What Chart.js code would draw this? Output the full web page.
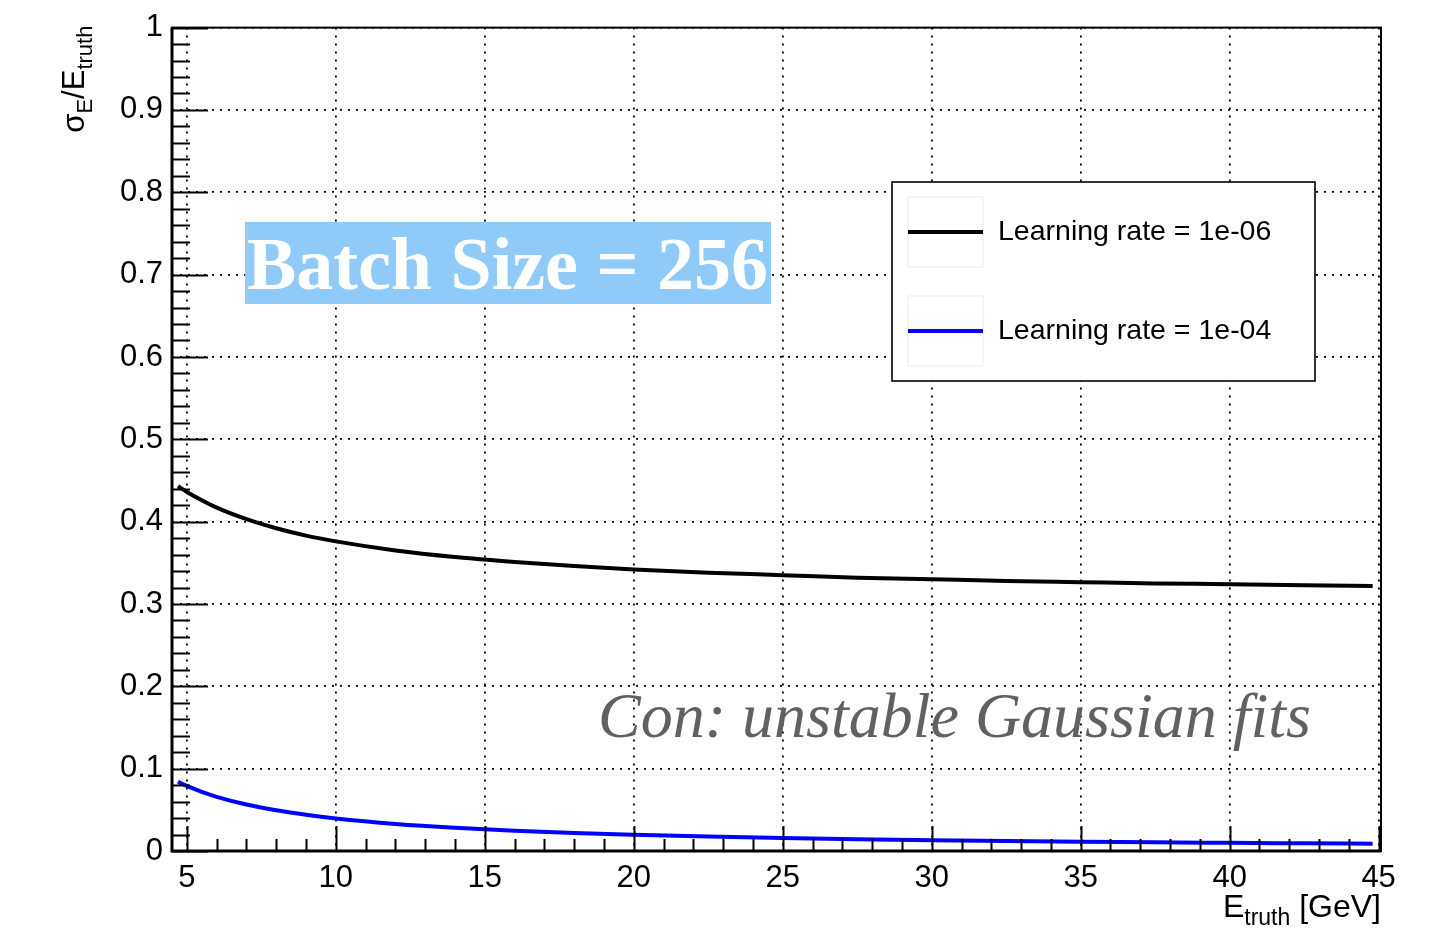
<!DOCTYPE html>
<html>
<head>
<meta charset="utf-8">
<title>Energy resolution vs true energy</title>
<script src="https://cdn.jsdelivr.net/npm/chart.js@4.4.1/dist/chart.umd.min.js"></script>
<style>
  html, body { margin: 0; padding: 0; background: #ffffff; }
  #wrap { width: 1435px; height: 928px; position: relative; }
</style>
</head>
<body>
<div id="wrap"><canvas id="c" width="1435" height="928"></canvas></div>
<script>
// True energy (GeV) at which the resolution curves are sampled
const energyGeV = [4.7, 5, 5.5, 6, 7, 8, 9, 10, 12, 14, 16, 18, 20, 22.5, 25, 27.5, 30, 32.5, 35, 37.5, 40, 42.5, 44.8];

// sigma_E / E_truth for learning rate 1e-06
const resolutionLR1e6 = [0.443, 0.436, 0.426, 0.417, 0.403, 0.392, 0.383, 0.376, 0.365, 0.357, 0.351, 0.346, 0.342, 0.338, 0.335, 0.332, 0.330, 0.328, 0.3265, 0.325, 0.324, 0.3227, 0.3218];

// sigma_E / E_truth for learning rate 1e-04
const resolutionLR1e4 = [0.084, 0.079, 0.0718, 0.0658, 0.0564, 0.0494, 0.0439, 0.0395, 0.0329, 0.0282, 0.0247, 0.0219, 0.0198, 0.0176, 0.0158, 0.0144, 0.0132, 0.0122, 0.0113, 0.0105, 0.0099, 0.0093, 0.0088];

const seriesLabels = ['Learning rate = 1e-06', 'Learning rate = 1e-04'];
const seriesColors = ['#000000', '#0000ff'];

// Axis ticks
const xTickValues = [5, 10, 15, 20, 25, 30, 35, 40, 45];
const xTickLabels = ['5', '10', '15', '20', '25', '30', '35', '40', '45'];
const yTickValues = [0, 0.1, 0.2, 0.3, 0.4, 0.5, 0.6, 0.7, 0.8, 0.9, 1.0];
const yTickLabels = ['0', '0.1', '0.2', '0.3', '0.4', '0.5', '0.6', '0.7', '0.8', '0.9', '1'];
const xMinorStep = 1;
const yMinorStep = 0.02;

const annotationText = 'Batch Size = 256';
const commentText = 'Con: unstable Gaussian fits';

const SANS = '"Liberation Sans", Arial, Helvetica, sans-serif';
const SERIF = '"Liberation Serif", "Times New Roman", serif';

function toPoints(xs, ys) { return xs.map((x, i) => ({ x: x, y: ys[i] })); }

// Frame, tick marks, axis titles, text boxes and legend
const decorations = {
  id: 'decorations',
  afterDatasetsDraw(chart) {
    const ctx = chart.ctx;
    const a = chart.chartArea;
    const xs = chart.scales.x, ys = chart.scales.y;
    ctx.save();

    // Batch size label box
    ctx.fillStyle = '#90caf9';
    ctx.fillRect(245, 222, 526, 82);
    ctx.fillStyle = '#ffffff';
    ctx.font = 'bold 74px ' + SERIF;
    ctx.textAlign = 'left';
    ctx.textBaseline = 'alphabetic';
    ctx.fillText(annotationText, 247, 289);

    // Comment text
    ctx.fillStyle = '#616161';
    ctx.font = 'italic 64px ' + SERIF;
    ctx.fillText(commentText, 598, 737);

    // Legend
    const lx = 892, ly = 182, lw = 423, lh = 199;
    ctx.fillStyle = '#ffffff';
    ctx.fillRect(lx, ly, lw, lh);
    ctx.strokeStyle = '#000000';
    ctx.lineWidth = 1.6;
    ctx.strokeRect(lx, ly, lw, lh);
    const rows = [232, 331];
    chart.data.datasets.forEach((ds, i) => {
      const cy = rows[i];
      ctx.strokeStyle = 'rgba(0,0,0,0.07)';
      ctx.lineWidth = 1.2;
      ctx.strokeRect(908, cy - 35, 75, 70);
      ctx.strokeStyle = ds.borderColor;
      ctx.lineWidth = 4;
      ctx.beginPath();
      ctx.moveTo(908, cy);
      ctx.lineTo(983, cy);
      ctx.stroke();
      ctx.fillStyle = '#000000';
      ctx.font = '28.5px ' + SANS;
      ctx.textAlign = 'left';
      ctx.textBaseline = 'middle';
      ctx.fillText(ds.label, 998, cy);
    });

    // Frame
    ctx.strokeStyle = '#000000';
    ctx.lineWidth = 2;
    ctx.strokeRect(a.left, a.top, a.right - a.left, a.bottom - a.top);
    ctx.lineWidth = 3;
    ctx.beginPath();
    ctx.moveTo(a.left, a.top);
    ctx.lineTo(a.left, a.bottom);
    ctx.lineTo(a.right, a.bottom);
    ctx.stroke();

    // X tick marks
    ctx.lineWidth = 2;
    ctx.beginPath();
    for (let v = Math.ceil(xs.min); v <= xs.max + 1e-9; v += xMinorStep) {
      const px = Math.round(xs.getPixelForValue(v)) + 0.5;
      const major = xTickValues.includes(v);
      ctx.moveTo(px, a.bottom);
      ctx.lineTo(px, a.bottom - (major ? 25 : 12));
    }
    ctx.stroke();

    // Y tick marks
    ctx.beginPath();
    const nY = Math.round((ys.max - ys.min) / yMinorStep);
    for (let k = 0; k <= nY; k++) {
      const v = ys.min + k * yMinorStep;
      const py = Math.round(ys.getPixelForValue(v)) + 0.5;
      const major = (k % 5) === 0;
      ctx.moveTo(a.left, py);
      ctx.lineTo(a.left + (major ? 36 : 18), py);
    }
    ctx.stroke();

    // X axis title: E_truth [GeV], right aligned to the frame
    const mainF = '32px ' + SANS, subF = '23px ' + SANS;
    ctx.fillStyle = '#000000';
    ctx.textAlign = 'left';
    ctx.textBaseline = 'alphabetic';
    const xParts = [['E', mainF, 0], ['truth', subF, 8], [' [GeV]', mainF, 0]];
    let total = 0;
    xParts.forEach(p => { ctx.font = p[1]; total += ctx.measureText(p[0]).width; });
    let cx = a.right - total;
    xParts.forEach(p => {
      ctx.font = p[1];
      ctx.fillText(p[0], cx, 917 + p[2]);
      cx += ctx.measureText(p[0]).width;
    });

    // Y axis title: sigma_E / E_truth, rotated, ending at the top of the frame
    const yMainF = '31px ' + SANS, ySubF = '22px ' + SANS;
    const yParts = [['\u03c3', yMainF, 0], ['E', ySubF, 8], ['/E', yMainF, 0], ['truth', ySubF, 8]];
    total = 0;
    yParts.forEach(p => { ctx.font = p[1]; total += ctx.measureText(p[0]).width; });
    ctx.translate(84, a.top - 2);
    ctx.rotate(-Math.PI / 2);
    let u = -total;
    yParts.forEach(p => {
      ctx.font = p[1];
      ctx.fillText(p[0], u, p[2]);
      u += ctx.measureText(p[0]).width;
    });

    ctx.restore();
  }
};

new Chart(document.getElementById('c'), {
  type: 'line',
  data: {
    datasets: [
      {
        label: seriesLabels[0],
        data: toPoints(energyGeV, resolutionLR1e6),
        borderColor: seriesColors[0],
        borderWidth: 4,
        pointRadius: 0,
        fill: false,
        cubicInterpolationMode: 'monotone'
      },
      {
        label: seriesLabels[1],
        data: toPoints(energyGeV, resolutionLR1e4),
        borderColor: seriesColors[1],
        borderWidth: 4,
        pointRadius: 0,
        fill: false,
        cubicInterpolationMode: 'monotone'
      }
    ]
  },
  options: {
    responsive: false,
    animation: false,
    devicePixelRatio: 1,
    layout: { padding: { top: 24, right: 54, left: 0, bottom: 0 } },
    plugins: { legend: { display: false }, tooltip: { enabled: false } },
    scales: {
      x: {
        type: 'linear',
        min: 4.5,
        max: 45.08,
        afterBuildTicks: (s) => { s.ticks = xTickValues.map(v => ({ value: v })); },
        afterFit: (s) => { s.height = 77; },
        grid: { color: '#000000', lineWidth: 1.8, drawTicks: false },
        border: { display: false, dash: [2, 6] },
        ticks: {
          color: '#000000',
          font: { family: SANS, size: 31 },
          padding: 9,
          maxRotation: 0,
          autoSkip: false,
          callback: (v, i) => xTickLabels[i]
        }
      },
      y: {
        type: 'linear',
        min: 0,
        max: 1,
        afterBuildTicks: (s) => { s.ticks = yTickValues.map(v => ({ value: v })); },
        afterFit: (s) => { s.width = 172; },
        grid: { color: '#000000', lineWidth: 1.8, drawTicks: false },
        border: { display: false, dash: [2, 6] },
        ticks: {
          color: '#000000',
          font: { family: SANS, size: 31 },
          padding: 9,
          autoSkip: false,
          callback: (v, i) => yTickLabels[i]
        }
      }
    }
  },
  plugins: [decorations]
});
</script>
</body>
</html>
